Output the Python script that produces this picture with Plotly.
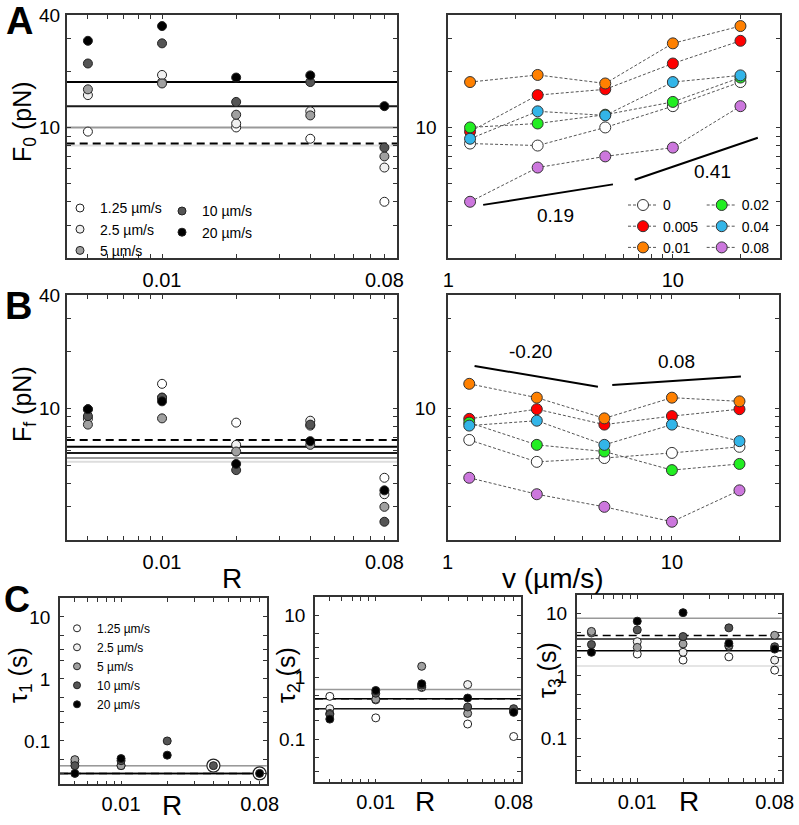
import math
import plotly.graph_objects as go

W, H = 799, 825
FONT = "Liberation Sans, Arial, sans-serif"

# ---------------- data ----------------
R_vals = [0.005, 0.01, 0.02, 0.04, 0.08]
R_names = ["0", "0.005", "0.01", "0.02", "0.04", "0.08"]
v_vals = [1.25, 2.5, 5, 10, 20]
v_names = ["1.25 µm/s", "2.5 µm/s", "5 µm/s", "10 µm/s", "20 µm/s"]

# F0 (pN), one list per R, values for v = 1.25, 2.5, 5, 10, 20
F0_R0 = [8.2, 8.0, 10.0, 13.0, 17.5]
F0_R005 = [9.5, 14.9, 16.0, 22.0, 29.1]
F0_R01 = [17.5, 19.1, 17.2, 28.2, 34.9]
F0_R02 = [10.0, 10.5, 11.7, 13.7, 18.5]
F0_R04 = [8.7, 12.2, 11.6, 17.5, 19.0]
F0_R08 = [4.0, 6.1, 7.0, 7.8, 13.0]

# Ff (pN)
Ff_R0 = [6.8, 5.2, 5.45, 5.8, 6.25]
Ff_R005 = [8.8, 9.9, 8.2, 9.1, 9.9]
Ff_R01 = [13.5, 11.4, 8.85, 11.4, 10.9]
Ff_R02 = [8.4, 6.4, 5.9, 4.7, 5.07]
Ff_R04 = [8.1, 8.6, 6.4, 8.2, 6.7]
Ff_R08 = [4.28, 3.5, 3.0, 2.5, 3.67]

# tau1 (s)
tau1_R0 = [0.03, 0.04, 0.04, 0.03, 0.03]
tau1_R005 = [None, 0.045, 0.05, 0.04, 0.03]
tau1_R01 = [None, 0.04, 0.04, 0.048, 0.052]
tau1_R02 = [None, None, None, 0.1, 0.059]
tau1_R04 = [0.04, None, None, 0.04, None]
tau1_R08 = [0.03, None, None, None, 0.03]

# tau2 (s)
tau2_R0 = [0.45, 0.31, 0.63, 0.31, 0.45]
tau2_R005 = [0.49, 0.31, 0.26, 0.25, 0.21]
tau2_R01 = [0.22, 0.43, 0.44, 0.55, 0.61]
tau2_R02 = [0.68, 0.70, 1.5, 0.74, 0.78]
tau2_R04 = [0.175, 0.76, 0.26, 0.33, 0.46]
tau2_R08 = [0.11, 0.28, 0.29, 0.31, 0.27]

# tau3 (s)
tau3_R0 = [4.45, 1.45, 8.5, 3.94, 2.55]
tau3_R005 = [4.9, 5.0, 5.2, 3.2, 2.4]
tau3_R01 = [2.25, 3.56, 2.88, 5.5, 7.6]
tau3_R02 = [1.8, 2.4, 3.27, 4.3, 10.4]
tau3_R04 = [2.03, 3.0, 3.1, 5.93, 3.35]
tau3_R08 = [1.24, 1.8, 4.5, 2.95, 2.7]

# power-law guide lines (v start, v end, value at start, exponent)
guideF0_v0 = [1.43, 6.76]
guideF0_v1 = [5.41, 23.9]
guideF0_y0 = [3.85, 5.25]
guideF0_slope = [0.19, 0.41]
guideFf_v0 = [1.32, 5.42]
guideFf_v1 = [4.68, 20.3]
guideFf_y0 = [16.8, 13.3]
guideFf_slope = [-0.20, 0.08]

# tick labels
R_ticks = [0.005, 0.006, 0.007, 0.008, 0.009, 0.01, 0.02, 0.03, 0.04, 0.05, 0.06, 0.07, 0.08]
R_ticktext = ["", "", "", "", "", "0.01", "", "", "", "", "", "", "0.08"]
v_ticks = [1, 2, 3, 4, 5, 6, 7, 8, 9, 10, 20]
v_ticktext = ["1", "", "", "", "", "", "", "", "", "10", ""]
F_ticks = [2, 3, 4, 5, 6, 7, 8, 9, 10, 20, 30, 40]
F_ticktext_left = ["", "", "", "", "", "", "", "", "10", "", "", "40"]
F_ticktext_right = ["", "", "", "", "", "", "", "", "10", "", "", ""]
T_ticks = [0.02, 0.03, 0.05, 0.1, 0.2, 0.3, 0.5, 1, 2, 3, 5, 10, 20]
T_ticktext = ["", "", "", "0.1", "", "", "", "1", "", "", "", "10", ""]

# ---------------- styles ----------------
v_fill = ["#ffffff", "#f0f0f0", "#a0a0a0", "#555555", "#000000"]
R_fill = ["#ffffff", "#ff0000", "#ff8000", "#22ee22", "#33b5e8", "#cc77dd"]
ref_color = ["#000000", "#dddddd", "#999999", "#1a1a1a", "#000000"]
ref_dash = ["8px,5px", "solid", "solid", "solid", "solid"]
ref_order = [1, 2, 0, 3, 4]

F0_rows = [F0_R0, F0_R005, F0_R01, F0_R02, F0_R04, F0_R08]
Ff_rows = [Ff_R0, Ff_R005, Ff_R01, Ff_R02, Ff_R04, Ff_R08]
tau1_rows = [tau1_R0, tau1_R005, tau1_R01, tau1_R02, tau1_R04, tau1_R08]
tau2_rows = [tau2_R0, tau2_R005, tau2_R01, tau2_R02, tau2_R04, tau2_R08]
tau3_rows = [tau3_R0, tau3_R005, tau3_R01, tau3_R02, tau3_R04, tau3_R08]

fig = go.Figure()
shapes = []


def px(x):
    return x / W


def py(y):
    return 1 - y / H


def left_panel(rows, xa, ya, msize, lw, big_first=False):
    # reference lines at R = 0 for each velocity
    for j in ref_order:
        shapes.append(dict(type="line", xref=xa + " domain", yref=ya, x0=0, x1=1,
                           y0=rows[0][j], y1=rows[0][j], layer="below",
                           line=dict(color=ref_color[j], width=lw, dash=ref_dash[j])))
    for j in range(5):
        yv = [rows[i + 1][j] for i in range(5)]
        size = msize + 5 if (big_first and j == 0) else msize
        fig.add_trace(go.Scatter(x=R_vals, y=yv, mode="markers", xaxis=xa, yaxis=ya,
                                 showlegend=False, hoverinfo="skip",
                                 marker=dict(size=size, color=v_fill[j],
                                             line=dict(color="#222", width=1.2 if big_first and j == 0 else 1))))


def right_panel(rows, xa, ya, legend_on):
    for i in range(6):
        leg = "legend3" if i < 3 else "legend4"
        fig.add_trace(go.Scatter(x=v_vals, y=rows[i], mode="lines+markers", xaxis=xa, yaxis=ya,
                                 name=R_names[i], showlegend=legend_on, legend=leg,
                                 hoverinfo="skip",
                                 line=dict(color="#555", width=1, dash="3px,2px"),
                                 marker=dict(size=11, color=R_fill[i], line=dict(color="#333", width=1))))


def guides(v0s, v1s, y0s, slopes, xa, ya):
    for a, b, y0, s in zip(v0s, v1s, y0s, slopes):
        y1 = y0 * (b / a) ** s
        fig.add_trace(go.Scatter(x=[a, b], y=[y0, y1], mode="lines", xaxis=xa, yaxis=ya,
                                 showlegend=False, hoverinfo="skip",
                                 line=dict(color="black", width=2)))


left_panel(F0_rows, "x", "y", 9, 2)
right_panel(F0_rows, "x2", "y2", True)
guides(guideF0_v0, guideF0_v1, guideF0_y0, guideF0_slope, "x2", "y2")
left_panel(Ff_rows, "x3", "y3", 9, 2)
right_panel(Ff_rows, "x4", "y4", False)
guides(guideFf_v0, guideFf_v1, guideFf_y0, guideFf_slope, "x4", "y4")
left_panel(tau1_rows, "x5", "y5", 8, 1.5, big_first=True)
left_panel(tau2_rows, "x6", "y6", 8, 1.5)
left_panel(tau3_rows, "x7", "y7", 8, 1.5)

# gray-scale legend entries (A and C)
for j in range(5):
    leg = "legend" if j < 3 else "legend2"
    fig.add_trace(go.Scatter(x=[None], y=[None], mode="markers", xaxis="x", yaxis="y",
                             name=v_names[j], legend=leg, showlegend=True,
                             marker=dict(size=8, color=v_fill[j], line=dict(color="#222", width=1))))
    fig.add_trace(go.Scatter(x=[None], y=[None], mode="markers", xaxis="x5", yaxis="y5",
                             name=v_names[j], legend="legend5", showlegend=True,
                             marker=dict(size=7, color=v_fill[j], line=dict(color="#222", width=1))))


def axis(domain, lo, hi, tv, tt, anchor, standoff=0, size=20):
    return dict(type="log", domain=domain, range=[math.log10(lo), math.log10(hi)],
                tickmode="array", tickvals=tv, ticktext=tt, ticks="inside", ticklen=4,
                tickwidth=1.2, tickcolor="#333", showline=True, linecolor="#333", linewidth=1.6,
                mirror="allticks", showgrid=False, zeroline=False, anchor=anchor,
                ticklabelstandoff=standoff,
                tickfont=dict(size=size, color="black", family=FONT))


yA = [py(258), py(15)]
yB = [py(540), py(295)]
lay = dict(
    width=W, height=H, margin=dict(l=0, r=0, t=0, b=0, autoexpand=False),
    paper_bgcolor="white", plot_bgcolor="white",
    font=dict(family=FONT, color="black"),
    xaxis=axis([px(66.7), px(397)], 0.0041, 0.09, R_ticks, R_ticktext, "y", 3),
    yaxis=axis(yA, 2, 40, F_ticks, F_ticktext_left, "x", 1, 19),
    xaxis2=axis([px(448.3), px(780)], 1, 30, v_ticks, v_ticktext, "y2", 3),
    yaxis2=axis(yA, 2, 40, F_ticks, F_ticktext_right, "x2", 6, 19),
    xaxis3=axis([px(66.7), px(397)], 0.0041, 0.09, R_ticks, R_ticktext, "y3", 3),
    yaxis3=axis(yB, 2, 40, F_ticks, F_ticktext_left, "x3", 1, 19),
    xaxis4=axis([px(447.5), px(779)], 1, 30, v_ticks, v_ticktext, "y4", 3),
    yaxis4=axis(yB, 2, 40, F_ticks, F_ticktext_right, "x4", 6, 19),
    xaxis5=axis([px(60), px(266.7)], 0.004, 0.089, R_ticks, R_ticktext, "y5", 1),
    yaxis5=axis([py(784.3), py(598.3)], 0.02, 20, T_ticks, T_ticktext, "x5", 4, 19),
    xaxis6=axis([px(315), px(520.7)], 0.004, 0.089, R_ticks, R_ticktext, "y6", 1),
    yaxis6=axis([py(782.3), py(596.7)], 0.02, 20, T_ticks, T_ticktext, "x6", 4, 19),
    xaxis7=axis([px(576.7), px(781.7)], 0.004, 0.089, R_ticks, R_ticktext, "y7", 1),
    yaxis7=axis([py(781.7), py(595)], 0.02, 20, T_ticks, T_ticktext, "x7", 4, 19),
    shapes=shapes,
)


def legend(x, y, size):
    return dict(x=px(x), y=py(y), xanchor="left", yanchor="top", bgcolor="rgba(0,0,0,0)",
                font=dict(size=size, family=FONT, color="black"), tracegroupgap=0,
                itemclick=False, itemdoubleclick=False)


lay["legend"] = legend(60, 192.4, 14)
lay["legend2"] = legend(162, 195.4, 14)
lay["legend3"] = legend(623, 189.4, 14)
lay["legend4"] = legend(701.7, 189.4, 14)
lay["legend5"] = legend(57, 613.8, 12)

ann = []


def text(x, y, s, size, angle=0, bold=False):
    ann.append(dict(x=px(x), y=py(y), xref="paper", yref="paper", text=s, showarrow=False,
                    textangle=angle, xanchor="center", yanchor="middle",
                    font=dict(size=size, family=FONT, color="black",
                              weight="bold" if bold else "normal")))


text(19, 21, "A", 38, bold=True)
text(18, 306, "B", 38, bold=True)
text(17, 599, "C", 36, bold=True)
text(24, 122, "F<sub>0</sub> (pN)", 25, -90)
text(24, 404, "F<sub>f</sub> (pN)", 25, -90)
text(20, 675, "τ<sub>1</sub> (s)", 25, -90)
text(288, 675, "τ<sub>2</sub> (s)", 25, -90)
text(549, 670, "τ<sub>3</sub> (s)", 25, -90)
text(232, 578, "R", 28)
text(553, 578, "v (µm/s)", 28)
text(172, 805, "R", 28)
text(425, 801, "R", 28)
text(689, 801, "R", 28)


# slope labels placed relative to the guide-line midpoints
def slope_labels(v0s, v1s, y0s, slopes, xa, ya, shifts):
    for a, b, y0, s, (dx, dy) in zip(v0s, v1s, y0s, slopes, shifts):
        y1 = y0 * (b / a) ** s
        xm = (math.log10(a) + math.log10(b)) / 2
        ym = (math.log10(y0) + math.log10(y1)) / 2
        ann.append(dict(x=xm, y=ym, xref=xa, yref=ya, text=f"{s:.2f}", showarrow=False,
                        xshift=dx, yshift=dy, font=dict(size=19, family=FONT, color="black")))


slope_labels(guideF0_v0, guideF0_v1, guideF0_y0, guideF0_slope, "x2", "y2", [(7, -21), (16, -13)])
slope_labels(guideFf_v0, guideFf_v1, guideFf_y0, guideFf_slope, "x4", "y4", [(-6, 25), (0, 19)])

lay["annotations"] = ann
fig.update_layout(**lay)
fig.write_html("out.html", config={"displayModeBar": False},
               post_script="document.body.style.margin='0';document.body.style.overflow='hidden';")
